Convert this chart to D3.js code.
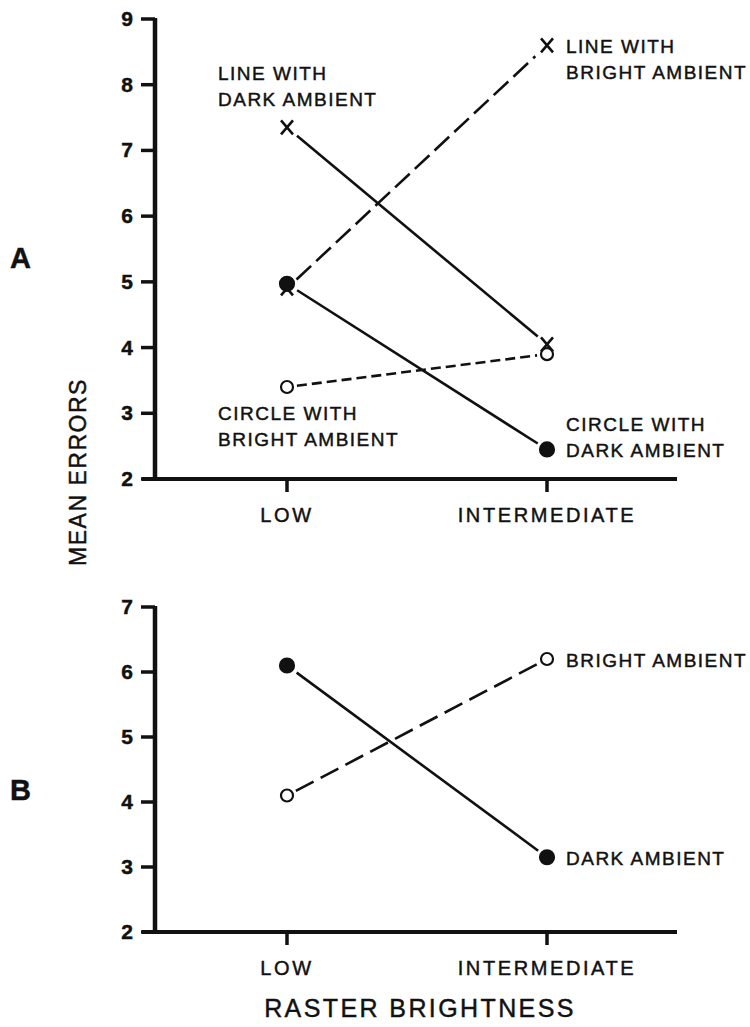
<!DOCTYPE html>
<html>
<head>
<meta charset="utf-8">
<script src="https://cdn.jsdelivr.net/npm/d3@7"></script>
<style>
  body { margin: 0; background: #fff; }
  text { font-family: "Liberation Sans", Arial, sans-serif; fill: #111; stroke: #111; stroke-width: 0.45px; }
</style>
</head>
<body>
<div class="chart"></div>
<script>
// data
const levels = ["LOW", "INTERMEDIATE"];

const lineDarkA = [7.35, 4.05];
const lineBrightA = [4.9, 8.6];
const circleDarkA = [4.97, 2.45];
const circleBrightA = [3.4, 3.9];

const darkB = [6.1, 3.15];
const brightB = [4.1, 6.2];

const ticksA = [2, 3, 4, 5, 6, 7, 8, 9];
const ticksB = [2, 3, 4, 5, 6, 7];

let width = 750;
let height = 1027;

let svg = d3
  .select(".chart")
  .append("svg")
  .attr("width", width)
  .attr("height", height);

// shared x scale
let x = d3.scalePoint().domain(levels).range([287, 547]);

let yA = d3.scaleLinear().domain([2, 9]).range([479, 19]);
let yB = d3.scaleLinear().domain([2, 7]).range([932, 607]);

// draw one panel's axes
let axes = (y, ticks) => {
  let g = svg.append("g");
  let y0 = y(ticks[0]);
  let yTop = y(ticks[ticks.length - 1]);

  // y axis line
  g.append("line")
    .attr("x1", 155).attr("x2", 155)
    .attr("y1", yTop - 1).attr("y2", y0 + 2)
    .attr("stroke", "#111").attr("stroke-width", 4.5);

  // x axis line
  g.append("line")
    .attr("x1", 142).attr("x2", 677)
    .attr("y1", y0).attr("y2", y0)
    .attr("stroke", "#111").attr("stroke-width", 4);

  // y ticks + labels
  ticks.forEach(t => {
    g.append("line")
      .attr("x1", 141).attr("x2", 155)
      .attr("y1", y(t)).attr("y2", y(t))
      .attr("stroke", "#111").attr("stroke-width", 3.5);
    g.append("text")
      .attr("x", 133)
      .attr("y", y(t) + 7)
      .attr("text-anchor", "end")
      .style("font-size", "21px")
      .style("font-weight", "bold")
      .text(t);
  });

  // x ticks + labels
  levels.forEach(l => {
    g.append("line")
      .attr("x1", x(l)).attr("x2", x(l))
      .attr("y1", y0).attr("y2", y0 + 13)
      .attr("stroke", "#111").attr("stroke-width", 3.5);
    g.append("text")
      .attr("x", x(l) + (l === "LOW" ? 0 : 0))
      .attr("y", y0 + 43)
      .attr("text-anchor", "middle")
      .style("font-size", "20px")
      .style("letter-spacing", "2.6px")
      .text(l);
  });
};

axes(yA, ticksA);
axes(yB, ticksB);

// segment between two points, trimmed so it does not touch the markers
let series = (y, vals, dash, gap) => {
  let p0 = [x(levels[0]), y(vals[0])];
  let p1 = [x(levels[1]), y(vals[1])];
  let dx = p1[0] - p0[0];
  let dy = p1[1] - p0[1];
  let len = Math.sqrt(dx * dx + dy * dy);
  let ux = dx / len, uy = dy / len;
  svg.append("line")
    .attr("x1", p0[0] + ux * gap[0]).attr("y1", p0[1] + uy * gap[0])
    .attr("x2", p1[0] - ux * gap[1]).attr("y2", p1[1] - uy * gap[1])
    .attr("stroke", "#111")
    .attr("stroke-width", 2.6)
    .attr("stroke-dasharray", dash);
};

let markX = (y, vals) => {
  vals.forEach((v, i) => {
    svg.append("path")
      .attr("transform", `translate(${x(levels[i])},${y(v)})`)
      .attr("d", "M-6,-7L6,7M6,-7L-6,7")
      .attr("stroke", "#111")
      .attr("stroke-width", 2.6)
      .attr("fill", "none");
  });
};

let markCircle = (y, vals, filled) => {
  vals.forEach((v, i) => {
    svg.append("circle")
      .attr("cx", x(levels[i]))
      .attr("cy", y(v))
      .attr("r", filled ? 7 : 6)
      .attr("fill", filled ? "#111" : "#fff")
      .attr("stroke", "#111")
      .attr("stroke-width", 2.2);
  });
};

// panel A
series(yA, lineDarkA, null, [13, 12]);
series(yA, lineBrightA, "20,7", [13, 16]);
series(yA, circleDarkA, null, [12, 11]);
series(yA, circleBrightA, "10,5", [10, 10]);

markX(yA, lineDarkA);
markX(yA, lineBrightA);
markCircle(yA, circleDarkA, true);
markCircle(yA, circleBrightA, false);

// panel B
series(yB, darkB, null, [12, 11]);
series(yB, brightB, "20,8", [10, 10]);
markCircle(yB, darkB, true);
markCircle(yB, brightB, false);

// annotations
let label = (lines, px, py) => {
  lines.forEach((s, i) => {
    svg.append("text")
      .attr("x", px)
      .attr("y", py + i * 26)
      .style("font-size", "19px")
      .style("letter-spacing", "1.5px")
      .text(s);
  });
};

let xl = x(levels[0]) - 69;
let xr = x(levels[1]) + 19;

label(["LINE WITH", "DARK AMBIENT"], xl, yA(lineDarkA[0]) - 47);
label(["LINE WITH", "BRIGHT AMBIENT"], xr, yA(lineBrightA[1]) + 8);
label(["CIRCLE WITH", "BRIGHT AMBIENT"], xl, yA(circleBrightA[0]) + 33);
label(["CIRCLE WITH", "DARK AMBIENT"], xr, yA(circleDarkA[1]) - 18);
label(["BRIGHT AMBIENT"], xr, yB(brightB[1]) + 8);
label(["DARK AMBIENT"], xr, yB(darkB[1]) + 8);

// panel letters
svg.append("text")
  .attr("x", 10).attr("y", 268)
  .style("font-size", "29px")
  .style("font-weight", "bold")
  .text("A");

svg.append("text")
  .attr("x", 10).attr("y", 800)
  .style("font-size", "29px")
  .style("font-weight", "bold")
  .text("B");

// axis titles
svg.append("text")
  .attr("transform", "translate(86,472) rotate(-90)")
  .attr("text-anchor", "middle")
  .style("font-size", "23px")
  .style("letter-spacing", "1.5px")
  .text("MEAN ERRORS");

svg.append("text")
  .attr("x", 420).attr("y", 1017)
  .attr("text-anchor", "middle")
  .style("font-size", "25px")
  .style("letter-spacing", "2.4px")
  .text("RASTER BRIGHTNESS");
</script>
</body>
</html>
